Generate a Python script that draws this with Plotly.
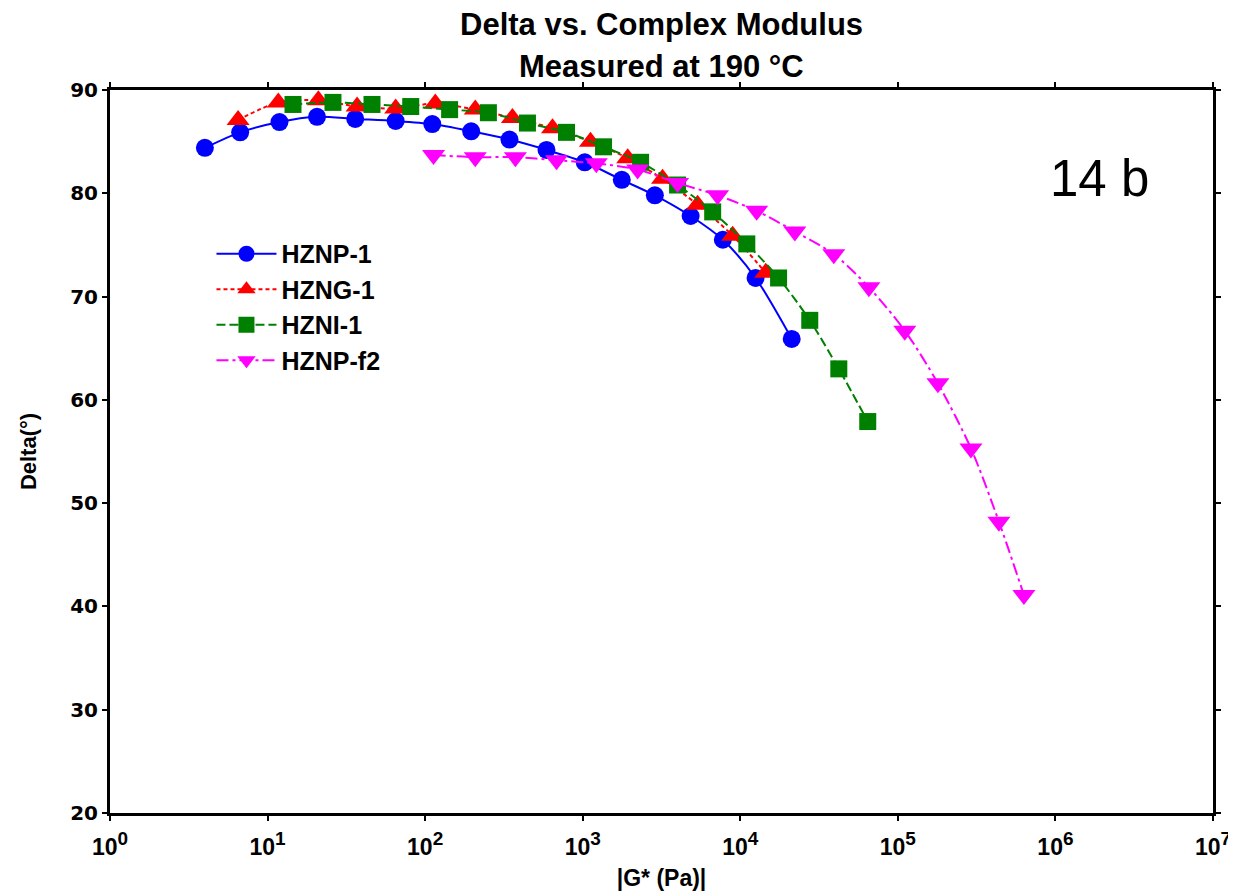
import plotly.graph_objects as go

# |G*| (Pa) and phase angle delta (deg)
hznp1_g = [4.0, 6.7, 11.9, 20.6, 36, 65, 111, 196, 343, 589, 1030, 1770, 2870, 4840, 7750, 12500, 21200]
hznp1_d = [84.4, 85.9, 86.9, 87.4, 87.2, 87.0, 86.7, 86.0, 85.2, 84.2, 83.0, 81.3, 79.8, 77.8, 75.5, 71.8, 65.9]

hzng1_g = [6.5, 11.7, 21, 37, 65, 116, 208, 358, 643, 1120, 1930, 3210, 5360, 8950, 14500]
hzng1_d = [87.1, 88.8, 89.0, 88.4, 88.2, 88.7, 88.1, 87.3, 86.3, 85.0, 83.4, 81.4, 78.9, 75.9, 72.3]

hzni1_g = [14.5, 26, 46, 81, 143, 252, 446, 789, 1356, 2330, 4000, 6680, 11000, 17500, 27600, 42200, 64400]
hzni1_d = [88.6, 88.8, 88.6, 88.4, 88.1, 87.8, 86.8, 85.9, 84.5, 83.0, 80.8, 78.2, 75.1, 71.8, 67.7, 63.0, 57.9]

hznpf2_g = [113, 208, 374, 682, 1220, 2230, 4000, 7180, 12700, 22200, 39200, 65500, 110700, 179500, 291000, 438000, 631000]
hznpf2_d = [83.7, 83.5, 83.5, 83.2, 82.9, 82.3, 81.0, 79.8, 78.3, 76.3, 74.1, 70.9, 66.7, 61.6, 55.3, 48.2, 41.1]

x_tickvals = [1, 10, 100, 1e3, 1e4, 1e5, 1e6, 1e7]
x_ticktext = ["10<sup><span style='font-size:19px'>%d</span></sup>" % i for i in range(8)]

FONT = "Liberation Sans, Arial, sans-serif"
WIDE = "DejaVu Sans, sans-serif"

series = [
    ("HZNP-1", hznp1_g, hznp1_d, "#0000FF", "solid", "circle", 18),
    ("HZNG-1", hzng1_g, hzng1_d, "#FF0000", "4px,3px", "triangle-up", 20),
    ("HZNI-1", hzni1_g, hzni1_d, "#008000", "9px,4px", "square", 17),
    ("HZNP-f2", hznpf2_g, hznpf2_d, "#FF00FF", "12px,4px,3px,4px", "triangle-down", 20),
]

fig = go.Figure()
for name, g, d, colour, dash, symbol, size in series:
    fig.add_trace(
        go.Scatter(
            x=g,
            y=d,
            name=name,
            mode="lines+markers",
            line=dict(color=colour, width=2, dash=dash, shape="spline", smoothing=0.8),
            marker=dict(color=colour, symbol=symbol, size=size, line=dict(width=0)),
        )
    )

axis_common = dict(
    showline=True,
    linecolor="black",
    linewidth=3,
    mirror="ticks",
    ticks="outside",
    ticklen=5,
    tickwidth=2,
    tickcolor="black",
    showgrid=False,
    zeroline=False,
    automargin=False,
)

fig.update_xaxes(
    type="log",
    range=[0, 7],
    tickvals=x_tickvals,
    ticktext=x_ticktext,
    ticklabelstandoff=6,
    tickfont=dict(family=FONT, size=23, color="black", weight="bold"),
    title=dict(text="<b>|G* (Pa)|</b>", font=dict(family=FONT, size=23, color="black"), standoff=12),
    **axis_common,
)
fig.update_yaxes(
    range=[20, 90],
    dtick=10,
    tickfont=dict(family=WIDE, size=20, color="black", weight="bold"),
    title=dict(text="<b>Delta(°)</b>", font=dict(family=FONT, size=22, color="black"), standoff=28),
    **axis_common,
)

fig.add_annotation(
    text="<b>Delta vs. Complex Modulus</b>", xref="paper", yref="paper",
    x=0.5, y=1.091, yanchor="middle", showarrow=False,
    font=dict(family=FONT, size=31, color="black"),
)
fig.add_annotation(
    text="<b>Measured at 190 °C</b>", xref="paper", yref="paper",
    x=0.5, y=1.033, yanchor="middle", showarrow=False,
    font=dict(family=FONT, size=31, color="black"),
)
fig.add_annotation(
    text="14 b", xref="paper", yref="paper",
    x=0.897, y=0.878, xanchor="center", yanchor="middle", showarrow=False,
    font=dict(family=FONT, size=51, color="black"),
)

# the page body adds an 8px offset, so the figure is drawn 8px smaller
fig.update_layout(
    width=1228,
    height=887,
    margin=dict(l=102, r=23, t=82, b=82),
    paper_bgcolor="white",
    plot_bgcolor="white",
    font=dict(family=FONT, color="black"),
    showlegend=True,
    legend=dict(
        x=0.092,
        y=0.805,
        xanchor="left",
        yanchor="top",
        bgcolor="rgba(0,0,0,0)",
        font=dict(family=FONT, size=25, color="black", weight="bold"),
        tracegroupgap=0,
        itemwidth=60,
    ),
)

fig.write_html("out.html")
